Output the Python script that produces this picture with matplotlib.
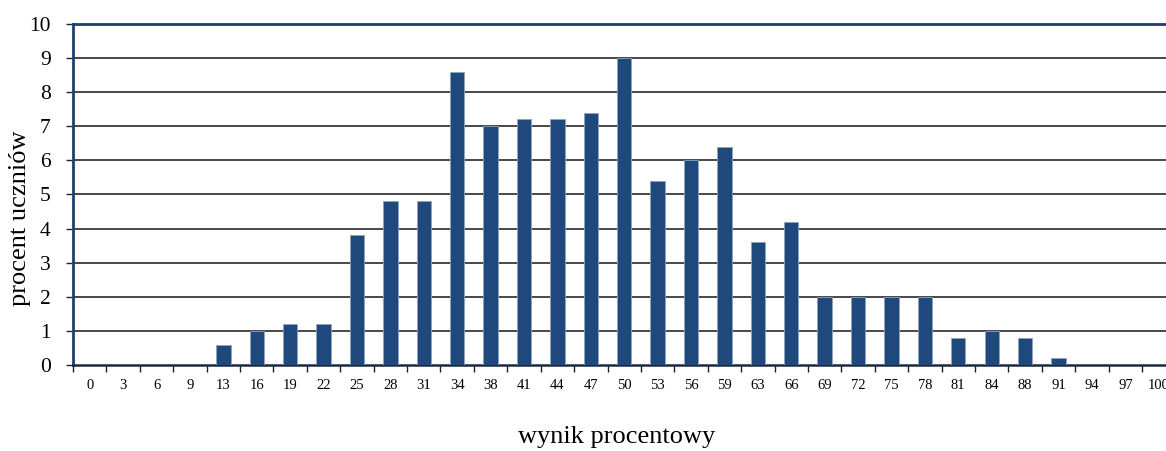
import numpy as np
import matplotlib
matplotlib.use('Agg')
import matplotlib.pyplot as plt

plt.rcParams['font.family'] = ['Liberation Serif', 'DejaVu Serif']

# --- data
wynik = ['0', '3', '6', '9', '13', '16', '19', '22', '25', '28', '31', '34',
         '38', '41', '44', '47', '50', '53', '56', '59', '63', '66', '69',
         '72', '75', '78', '81', '84', '88', '91', '94', '97', '100']
procent = [0, 0, 0, 0, 0.6, 1.0, 1.2, 1.2, 3.8, 4.8, 4.8, 8.6,
           7.0, 7.2, 7.2, 7.4, 9.0, 5.4, 6.0, 6.4, 3.6, 4.2, 2.0,
           2.0, 2.0, 2.0, 0.8, 1.0, 0.8, 0.2, 0, 0, 0]
yticks = list(range(0, 11))

navy = '#1F3F6F'
bar_col = '#1F487C'

fig = plt.figure(figsize=(11.66, 4.51), dpi=100)
# plot area runs past the right edge, as in the reference
ax = fig.add_axes([0.0626, 0.1907, 0.9455, 0.7561])

x = np.arange(len(wynik))
ax.bar(x, procent, width=0.43, color=bar_col, edgecolor='#8FA3BF',
       linewidth=0.6, zorder=3)

ax.set_xlim(-0.5, len(wynik) - 0.5)
ax.set_ylim(0, 10)
ax.set_yticks(yticks)
ax.set_yticklabels([str(t) for t in yticks], fontsize=15.5)
ax.set_xticks(x)
ax.set_xticklabels(wynik, fontsize=10.5)
ax.set_xticks(np.arange(len(wynik) + 1) - 0.5, minor=True)
ax.tick_params(axis='x', which='major', length=0, pad=10)
ax.tick_params(axis='x', which='minor', length=5, width=1, color='#222222')
ax.tick_params(axis='y', length=5, width=1, color='#222222', pad=11)

for y in yticks[1:-1]:
    ax.axhline(y, color='#484848', lw=1.4, zorder=1)

for s in ['top', 'left']:
    ax.spines[s].set_color(navy)
    ax.spines[s].set_linewidth(2)
ax.spines['bottom'].set_color('#1A2A40')
ax.spines['bottom'].set_linewidth(1.8)
ax.spines['right'].set_visible(False)

fig.text(0.017, 0.517, 'procent uczniów', fontsize=19, rotation=90,
         ha='center', va='center')
fig.text(0.529, 0.031, 'wynik procentowy', fontsize=19, ha='center', va='center')

plt.savefig('out.png', dpi=100)
